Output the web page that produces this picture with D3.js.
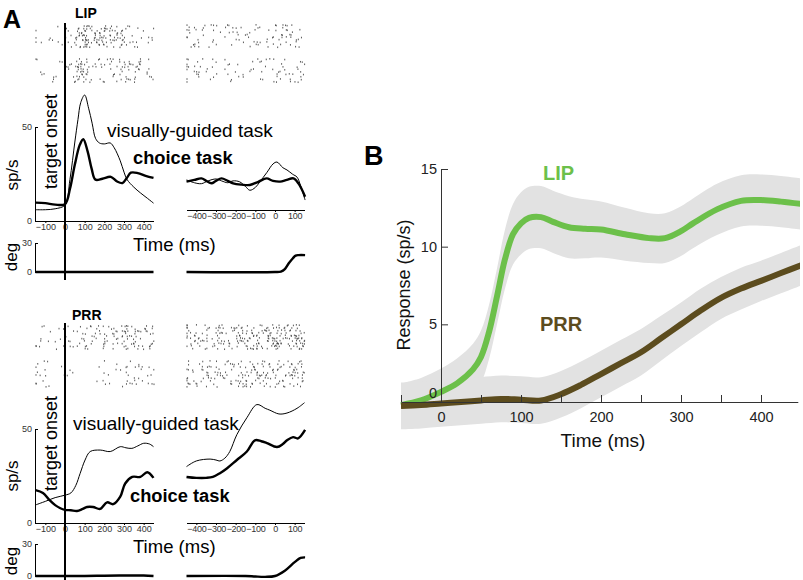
<!DOCTYPE html>
<html><head><meta charset="utf-8">
<script src="https://cdnjs.cloudflare.com/ajax/libs/d3/7.8.5/d3.min.js"></script>
<style>
body{margin:0;background:#fff;}
svg{display:block;font-family:"Liberation Sans",Arial,Helvetica,sans-serif;}
</style></head><body>
<svg id="c" width="803" height="580"></svg>
<script>
// ---------- Panel A data (sp/s and deg) ----------
const lipLeftVisT = [-150,-100,-50,0,25,50,66,80,100,120,138,155,175,200,230,250,281,300,316,350,383,420,450];
const lipLeftVisV = [6,6,6.5,8.5,22,42,54,63,67,60,52,44,41.5,41,41.5,39,32,26,22,18,15,12,9.5];
const lipLeftChoT = [-150,-100,-50,0,25,50,75,93,115,135,155,190,233,265,292,315,335,370,410,450];
const lipLeftChoV = [9.8,9.5,8.7,9,17,30,40.5,43.5,37,28,22,22.5,23.5,21,20.2,23,25.7,25.5,24,22.9];
const lipRightVisT = [-450,-410,-374,-340,-300,-272,-240,-213,-180,-150,-128,-100,-77,-41,-10,10,40,61,90,112,130,153];
const lipRightVisV = [16,14.5,14,15.5,16.5,15.5,14.5,15.5,15,12.5,10.5,12,15,20,24.5,25.5,22.5,21.3,19,17.5,13,5.3];
const lipRightChoT = [-450,-410,-374,-350,-323,-300,-272,-240,-213,-170,-128,-85,-43,-10,26,60,94,120,153];
const lipRightChoV = [15.1,16,16.8,15.5,14.2,15.5,16.8,15.5,14.2,13.5,13.3,15,16.8,15.5,15.1,16,16.8,14,7.1];
const lipLeftDegT = [-150,450];
const lipLeftDegV = [0,0];
const lipRightDegT = [-450,0,30,50,70,90,105,120,153];
const lipRightDegV = [0,0,0.5,3,9,14,17,17.5,17.5];

const prrLeftVisT = [-150,-100,-50,0,30,55,77,102,128,179,230,281,310,340,370,400,430,450];
const prrLeftVisV = [9.6,11.5,13.5,14.8,16,20,26.4,33.5,38,38.8,38,40.6,40,39.7,41,42.4,42,40.6];
const prrLeftChoT = [-150,-112,-77,-50,-26,0,30,61,90,112,143,179,214,245,281,306,342,383,418,450];
const prrLeftChoV = [17.5,16,12,9.5,8,7,6.8,6.4,7.5,8.5,8.5,7.5,11,10,14,21,24.5,24.5,27,24];
const prrRightVisT = [-450,-400,-330,-300,-280,-255,-230,-194,-143,-92,-50,-26,20,61,112,150];
const prrRightVisV = [30,33,34,33.5,33,34.5,38,47,56,63,61,60,58,58.5,61,64];
const prrRightChoT = [-450,-400,-350,-316,-280,-245,-194,-143,-102,-70,-41,10,40,61,92,117,153];
const prrRightChoV = [24.5,24,24,24.5,26.5,29,33.5,38,44,43.5,42.5,40.4,42,44,45.7,45,49.5];
const prrLeftDegT = [-150,100,200,300,400,450];
const prrLeftDegV = [0,0,0.3,0.5,0.4,0];
const prrRightDegT = [-450,-150,-100,-50,0,50,100,130,153];
const prrRightDegV = [0,0,-0.5,-0.8,0,5,13,17,17.5];

const leftTicks = [-100,0,100,200,300,400];
const rightTicks = [-400,-300,-200,-100,0,100];

// ---------- Panel B data (sp/s) ----------
const bTime = [-50,-25,0,20,40,50,60,70,80,90,100,110,125,140,160,180,200,230,260,280,300,315,345,375,400,425,450];
const lipMean = [-0.2,0.1,0.65,1.2,2.1,2.9,4.5,6.8,9.2,10.8,11.5,11.85,11.9,11.6,11.25,11.15,11.1,10.8,10.55,10.55,11.0,11.5,12.4,12.95,13.0,12.9,12.75];
const lipSem  = [1.4,1.45,1.5,1.6,1.65,1.7,1.75,1.8,1.9,1.95,2.0,2.0,2.0,2.0,2.0,1.9,1.8,1.7,1.6,1.6,1.6,1.6,1.65,1.65,1.65,1.65,1.65];
const prrTime = [-50,-25,0,25,50,75,100,125,150,175,200,225,250,275,300,325,350,375,400,425,450];
const prrMean = [-0.25,-0.2,-0.1,0,0.1,0.2,0.15,0.1,0.5,1.1,1.8,2.5,3.2,4.1,5.0,5.9,6.7,7.3,7.8,8.3,8.8];
const prrSem  = [1.5,1.5,1.5,1.5,1.5,1.5,1.5,1.5,1.5,1.5,1.5,1.5,1.5,1.45,1.4,1.4,1.35,1.35,1.3,1.3,1.3];
const bXTicks = [-50,0,50,100,150,200,250,300,350,400];
const bYTicks = [0,5,10,15];

const svg = d3.select("#c");
const zip = (t, v) => t.map((d, i) => [d, v[i]]);
const frac = x => x - Math.floor(x);

// ---------- Panel A ----------
const xL = d3.scaleLinear().domain([-150, 450]).range([35.5, 153.5]);
const xR = d3.scaleLinear().domain([-450, 150]).range([186.5, 304.5]);

function psthLine(xs, ys, data, w) {
  const line = d3.line().x(d => xs(d[0])).y(d => ys(d[1])).curve(d3.curveCatmullRom.alpha(0.5));
  svg.append("path").attr("d", line(data)).attr("fill", "none")
    .attr("stroke", "#000").attr("stroke-width", w).attr("stroke-linejoin", "round");
}

// spike rasters derived deterministically from each PSTH (integrate-and-fire with
// quasi-uniform (quadratic Weyl) exponential thresholds)
function raster(xs, t0, t1, times, vals, y0, y1, nRows, seed) {
  const rate = d3.scaleLinear().domain(times).range(vals).clamp(true);
  const rowH = (y1 - y0) / nRows;
  const spikes = [];
  let k = seed * 17;
  const nextThr = () => { k++; const u = frac(k * k * 0.6180339887 + k * 0.4142135624); return Math.max(0.08, -Math.log(1 - u * 0.97)); };
  for (let r = 0; r < nRows; r++) {
    let acc = frac((r + seed) * 0.6180339887);
    let thr = nextThr();
    for (let t = t0; t <= t1; t += 1) {
      acc += rate(t) * 0.75 / 1000;
      if (acc >= thr) {
        spikes.push([t, r + 0.4 * frac(k * 0.3819660113)]);
        acc -= thr;
        thr = nextThr();
      }
    }
  }
  svg.append("g").selectAll("rect").data(spikes).join("rect")
    .attr("x", d => xs(d[0])).attr("y", d => y0 + d[1] * rowH)
    .attr("width", 1).attr("height", 1.6).attr("fill", "#333").attr("opacity", 0.8);
}

function tickText(sel, size) {
  sel.selectAll("text").attr("font-size", size).attr("fill", "#333")
    .attr("font-family", '"Liberation Sans",Arial,sans-serif');
  sel.selectAll("path,line").attr("stroke", "#000");
}

function section(cfg) {
  const yLp = d3.scaleLinear().domain([0, 50]).range([cfg.base, cfg.base - 94]);
  const yRp = d3.scaleLinear().domain([0, 50]).range([cfg.baseR, cfg.baseR - 94]);
  const yD = d3.scaleLinear().domain([0, 30]).range([cfg.deg0, cfg.deg30]);

  // rasters
  raster(xL, -150, 450, cfg.lv[0], cfg.lv[1], cfg.r1[0], cfg.r1[1], 10, cfg.seed);
  raster(xL, -150, 450, cfg.lc[0], cfg.lc[1], cfg.r2[0], cfg.r2[1], 10, cfg.seed + 3);
  raster(xR, -450, 150, cfg.rv[0], cfg.rv[1], cfg.r1[0] - 1, cfg.r1[1], 10, cfg.seed + 5);
  raster(xR, -450, 150, cfg.rc[0], cfg.rc[1], cfg.r2[0], cfg.r2[1], 10, cfg.seed + 7);

  // left PSTH axes
  const ya = svg.append("g").attr("transform", `translate(35,0)`)
    .call(d3.axisLeft(yLp).tickValues([0, 50]).tickSizeInner(-3).tickSizeOuter(0).tickPadding(3));
  tickText(ya, 9);
  const xa = svg.append("g").attr("transform", `translate(0,${cfg.base})`)
    .call(d3.axisBottom(xL).tickValues(leftTicks).tickSizeInner(2).tickSizeOuter(0).tickPadding(1));
  tickText(xa, 9);
  xa.select(".domain").attr("stroke-width", 1.2);
  const xb = svg.append("g").attr("transform", `translate(0,${cfg.baseR})`)
    .call(d3.axisBottom(xR).tickValues(rightTicks).tickSizeInner(2).tickSizeOuter(0).tickPadding(1));
  tickText(xb, 9);
  xb.select(".domain").attr("stroke-width", 1.2);
  xb.selectAll(".tick text").attr("letter-spacing", -0.3);

  // PSTH curves
  psthLine(xL, yLp, zip(cfg.lv[0], cfg.lv[1]), 1);
  psthLine(xL, yLp, zip(cfg.lc[0], cfg.lc[1]), 2.4);
  psthLine(xR, yRp, zip(cfg.rv[0], cfg.rv[1]), 1);
  psthLine(xR, yRp, zip(cfg.rc[0], cfg.rc[1]), 2.4);

  // deg panels
  const da = svg.append("g").attr("transform", `translate(35,0)`)
    .call(d3.axisLeft(yD).tickValues([0, 30]).tickSizeInner(-3).tickSizeOuter(0).tickPadding(3));
  tickText(da, 9);
  psthLine(xL, yD, zip(cfg.ld[0], cfg.ld[1]), 2.4);
  psthLine(xR, yD, zip(cfg.rd[0], cfg.rd[1]), 2.4);

  // onset line
  svg.append("line").attr("x1", xL(0)).attr("x2", xL(0))
    .attr("y1", cfg.onset[0]).attr("y2", cfg.onset[1])
    .attr("stroke", "#000").attr("stroke-width", 2);

  // labels
  svg.append("text").text(cfg.name).attr("x", cfg.nameXY[0]).attr("y", cfg.nameXY[1])
    .attr("font-size", 14).attr("font-weight", "bold");
  svg.append("text").text("target onset")
    .attr("transform", `translate(57,${cfg.onsetTextY}) rotate(-90)`)
    .attr("text-anchor", "middle").attr("font-size", 18);
  svg.append("text").text("sp/s")
    .attr("transform", `translate(18,${cfg.spY}) rotate(-90)`)
    .attr("text-anchor", "middle").attr("font-size", 17);
  svg.append("text").text("deg")
    .attr("transform", `translate(17,${cfg.degY}) rotate(-90)`)
    .attr("text-anchor", "middle").attr("font-size", 17);
  svg.append("text").text("visually-guided task")
    .attr("x", cfg.visXY[0]).attr("y", cfg.visXY[1]).attr("font-size", 19);
  svg.append("text").text("choice task")
    .attr("x", cfg.choXY[0]).attr("y", cfg.choXY[1]).attr("font-size", 18.3).attr("font-weight", "bold");
  svg.append("text").text("Time (ms)")
    .attr("x", 133).attr("y", cfg.timeY).attr("font-size", 18.5);
}

section({
  name: "LIP", nameXY: [75, 18], seed: 1,
  base: 221, baseR: 210, deg0: 272, deg30: 243,
  r1: [25, 48], r2: [58, 83], onset: [23, 280],
  lv: [lipLeftVisT, lipLeftVisV], lc: [lipLeftChoT, lipLeftChoV],
  rv: [lipRightVisT, lipRightVisV], rc: [lipRightChoT, lipRightChoV],
  ld: [lipLeftDegT, lipLeftDegV], rd: [lipRightDegT, lipRightDegV],
  onsetTextY: 141.5, spY: 175, degY: 257,
  visXY: [107, 137], choXY: [133, 164], timeY: 251
});
section({
  name: "PRR", nameXY: [72, 320], seed: 11,
  base: 523, baseR: 523, deg0: 576, deg30: 544,
  r1: [325, 350], r2: [360, 388], onset: [323, 580],
  lv: [prrLeftVisT, prrLeftVisV], lc: [prrLeftChoT, prrLeftChoV],
  rv: [prrRightVisT, prrRightVisV], rc: [prrRightChoT, prrRightChoV],
  ld: [prrLeftDegT, prrLeftDegV], rd: [prrRightDegT, prrRightDegV],
  onsetTextY: 443.5, spY: 476, degY: 561,
  visXY: [73, 430], choXY: [130, 502], timeY: 553
});

svg.append("text").text("A").attr("x", 3).attr("y", 28)
  .attr("font-size", 25).attr("font-weight", "bold");

// ---------- Panel B ----------
const xB = d3.scaleLinear().domain([-50, 446]).range([401, 797.8]);
const yB = d3.scaleLinear().domain([0, 15]).range([402, 169]);
const green = "#6cc04a", brown = "#5c4c1e", band = "#e2e2e2";

svg.append("defs").append("clipPath").attr("id", "clipB")
  .append("rect").attr("x", 400).attr("y", 150).attr("width", 400).attr("height", 300);
const gB = svg.append("g").attr("clip-path", "url(#clipB)");

const area = d3.area().x(d => xB(d[0])).y0(d => yB(d[1] - d[2])).y1(d => yB(d[1] + d[2]))
  .curve(d3.curveCatmullRom.alpha(0.5));
const lineB = d3.line().x(d => xB(d[0])).y(d => yB(d[1])).curve(d3.curveCatmullRom.alpha(0.5));
const lipData = bTime.map((t, i) => [t, lipMean[i], lipSem[i]]);
const prrData = prrTime.map((t, i) => [t, prrMean[i], prrSem[i]]);
gB.append("path").attr("d", area(lipData)).attr("fill", band);
gB.append("path").attr("d", area(prrData)).attr("fill", band);

const ax = svg.append("g").attr("transform", "translate(0,402)")
  .call(d3.axisBottom(xB).tickValues(bXTicks).tickSizeInner(-7).tickSizeOuter(0).tickPadding(10)
    .tickFormat(d => d % 100 === 0 ? d : ""));
ax.selectAll("text").attr("font-size", 14.5).attr("fill", "#222")
  .attr("font-family", '"Liberation Sans",Arial,sans-serif');
ax.selectAll("path,line").attr("stroke", "#333");
const ay = svg.append("g").attr("transform", "translate(441,0)")
  .call(d3.axisLeft(yB).tickValues(bYTicks).tickSizeInner(-7).tickSizeOuter(0).tickPadding(4));
ay.selectAll("text").attr("font-size", 14.5).attr("fill", "#222")
  .attr("font-family", '"Liberation Sans",Arial,sans-serif');
ay.selectAll("path,line").attr("stroke", "#333");
ay.selectAll(".tick").filter(d => d === 0).select("text").attr("dy", "-0.3em");

gB.append("path").attr("d", lineB(lipData)).attr("fill", "none").attr("stroke", green)
  .attr("stroke-width", 6).attr("stroke-linecap", "butt");
gB.append("path").attr("d", lineB(prrData)).attr("fill", "none").attr("stroke", brown)
  .attr("stroke-width", 6).attr("stroke-linecap", "butt");

svg.append("text").text("B").attr("x", 364).attr("y", 165)
  .attr("font-size", 27).attr("font-weight", "bold");
svg.append("text").text("LIP").attr("x", 543).attr("y", 180)
  .attr("font-size", 20).attr("font-weight", "bold").attr("fill", green);
svg.append("text").text("PRR").attr("x", 540).attr("y", 331)
  .attr("font-size", 20).attr("font-weight", "bold").attr("fill", brown);
svg.append("text").text("Response (sp/s)")
  .attr("transform", "translate(410,285) rotate(-90)")
  .attr("text-anchor", "middle").attr("font-size", 18).attr("fill", "#111");
svg.append("text").text("Time (ms)").attr("x", 603).attr("y", 447)
  .attr("text-anchor", "middle").attr("font-size", 19).attr("fill", "#111");
</script></body></html>
